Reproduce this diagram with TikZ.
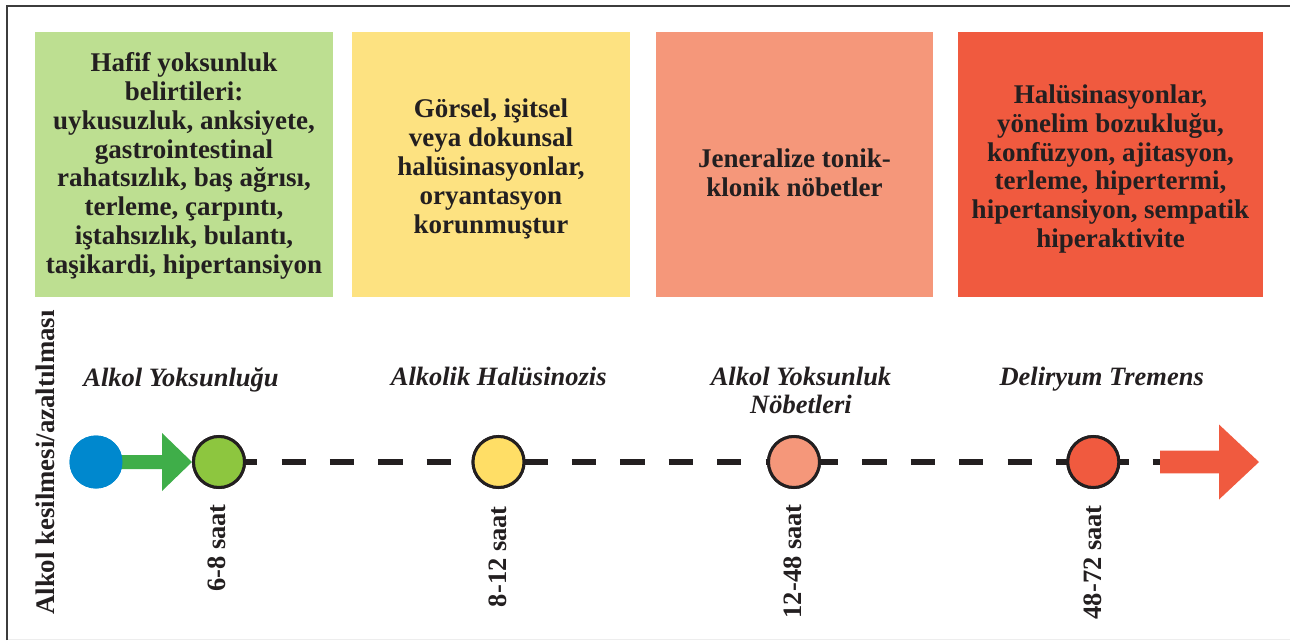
\documentclass[tikz,border=0pt]{standalone}
\usepackage{fontspec}
\setmainfont{Liberation Serif}
\usetikzlibrary{calc}

\definecolor{ink}{HTML}{231F20}
\definecolor{framegray}{HTML}{3C3C3C}
\definecolor{boxgreen}{HTML}{BDDF91}
\definecolor{boxyellow}{HTML}{FDE281}
\definecolor{boxsalmon}{HTML}{F5977A}
\definecolor{boxred}{HTML}{F05A3F}
\definecolor{dotblue}{HTML}{0088CE}
\definecolor{dotgreen}{HTML}{8DC63F}
\definecolor{dotyellow}{HTML}{FFDE66}
\definecolor{dotsalmon}{HTML}{F5977A}
\definecolor{dotred}{HTML}{F05A3F}
\definecolor{arrowgreen}{HTML}{3FAE49}
\definecolor{arrowred}{HTML}{F05A3F}

\begin{document}
\begin{tikzpicture}[x=1pt, y=-1pt,
  phasebox/.style={rectangle, draw=none, inner sep=0, minimum height=265},
  boxtext/.style={align=center, inner sep=0, text=ink,
    font=\bfseries\fontsize{27}{28.8}\selectfont},
  phaselabel/.style={align=center, inner sep=0, text=ink,
    font=\bfseries\itshape\fontsize{26.5}{28.5}\selectfont},
  timelabel/.style={inner sep=0, text=ink, rotate=90, anchor=east,
    font=\bfseries\fontsize{26.5}{28}\selectfont},
  dot/.style={circle, draw=ink, line width=3, minimum size=51, inner sep=0},
  dashline/.style={draw=ink, line width=6,
    dash pattern=on 24.2pt off 24.2pt, dash phase=34.3pt}
]
\useasboundingbox (0,0) rectangle (1290,640);

% frame
\draw[black!7, line width=1] (7,639) -- (1290,639);
\draw[framegray, line width=2] (7,640) -- (7,6) -- (1290,6);

% symptom boxes
\node[phasebox, fill=boxgreen,  minimum width=298] (b1) at (184,164.5) {};
\node[phasebox, fill=boxyellow, minimum width=278] (b2) at (491,164.5) {};
\node[phasebox, fill=boxsalmon, minimum width=277] (b3) at (794.5,164.5) {};
\node[phasebox, fill=boxred,    minimum width=305] (b4) at (1110.5,164.5) {};

\node[boxtext] (t1) at (184,166) {Hafif yoksunluk\\belirtileri:\\uykusuzluk, anksiyete,\\gastrointestinal\\rahatsızlık, baş ağrısı,\\terleme, çarpıntı,\\iştahsızlık, bulantı,\\taşikardi, hipertansiyon};
\node[boxtext] (t2) at (491,169) {Görsel, işitsel\\veya dokunsal\\halüsinasyonlar,\\oryantasyon\\korunmuştur};
\node[boxtext] (t3) at (794.5,173) {Jeneralize tonik-\\klonik nöbetler};
\node[boxtext] (t4) at (1110.5,169) {Halüsinasyonlar,\\yönelim bozukluğu,\\konfüzyon, ajitasyon,\\terleme, hipertermi,\\hipertansiyon, sempatik\\hiperaktivite};

% start label
\node[inner sep=0, text=ink, rotate=90, font=\bfseries\fontsize{26.8}{28}\selectfont]
  (start) at (45,462.5) {Alkol kesilmesi/azaltılması};

% timeline points
\node[circle, fill=dotblue, draw=none, minimum size=53, inner sep=0] (c0) at (96,462) {};
\node[dot, fill=dotgreen]  (c1) at (219,462) {};
\node[dot, fill=dotyellow] (c2) at (498.5,462) {};
\node[dot, fill=dotsalmon] (c3) at (794,462) {};
\node[dot, fill=dotred]    (c4) at (1093.3,462) {};
\coordinate (endtip) at (1259,462);

% dashed timeline and arrows
\draw[dashline] (c1.center) -- ($(endtip)+(-99,0)$);
\fill[arrowgreen] ($(c0.center)+(20,-7)$) -- ($(c1.west)+(-30,-7)$)
  -- ($(c1.west)+(-30,-29)$) -- (c1.west) -- ($(c1.west)+(-30,29)$)
  -- ($(c1.west)+(-30,7)$) -- ($(c0.center)+(20,7)$) -- cycle;
\fill[arrowred] ($(endtip)+(-99,-11.3)$) -- ($(endtip)+(-40,-11.3)$)
  -- ($(endtip)+(-40,-37.5)$) -- (endtip) -- ($(endtip)+(-40,37.5)$)
  -- ($(endtip)+(-40,11.3)$) -- ($(endtip)+(-99,11.3)$) -- cycle;

% redraw points over connectors
\node[circle, fill=dotblue, draw=none, minimum size=53, inner sep=0] at (c0) {};
\node[dot, fill=dotgreen]  at (c1) {};
\node[dot, fill=dotyellow] at (c2) {};
\node[dot, fill=dotsalmon] at (c3) {};
\node[dot, fill=dotred]    at (c4) {};

% phase names (base anchor sits on the last line)
\node[phaselabel, anchor=base] (l1) at (181,386) {Alkol Yoksunluğu};
\node[phaselabel, anchor=base] (l2) at (498.7,385) {Alkolik Halüsinozis};
\node[phaselabel, anchor=base] (l3) at (801,413.5) {Alkol Yoksunluk\\Nöbetleri};
\node[phaselabel, anchor=base] (l4) at (1101.7,385) {Deliryum Tremens};

% onset times
\node[timelabel] (h1) at (217,504) {6-8 saat};
\node[timelabel] (h2) at (498,506) {8-12 saat};
\node[timelabel] (h3) at (793,504) {12-48 saat};
\node[timelabel] (h4) at (1093,505) {48-72 saat};
\end{tikzpicture}
\end{document}
